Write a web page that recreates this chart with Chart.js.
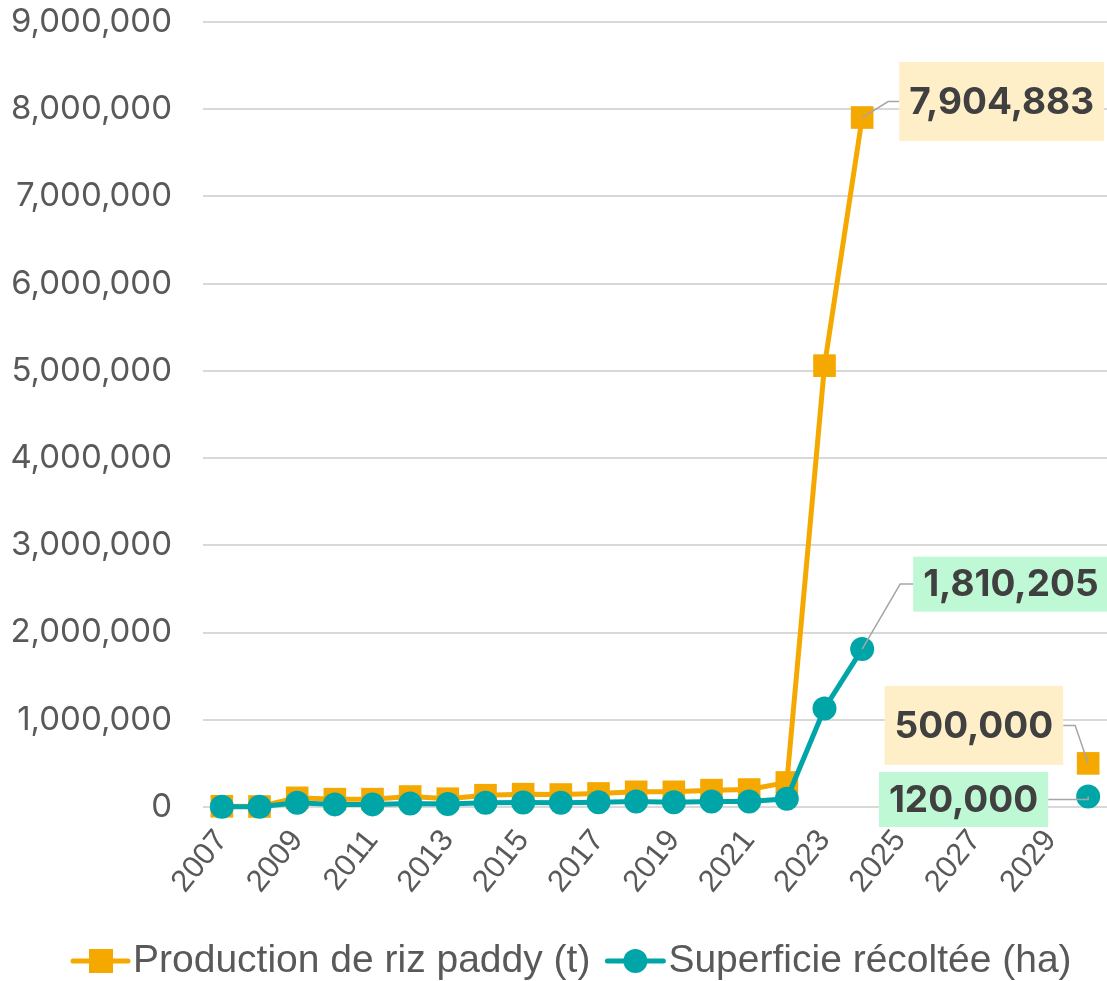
<!DOCTYPE html>
<html>
<head>
<meta charset="utf-8">
<script src="https://cdn.jsdelivr.net/npm/chart.js@4.4.1/dist/chart.umd.min.js"></script>
<style>
  html, body { margin: 0; padding: 0; background: #fff; overflow: hidden; }
  #wrap { width: 1107px; height: 981px; }
  canvas { display: block; }
</style>
</head>
<body>
<div id="wrap"><canvas id="c" width="1107" height="981"></canvas></div>
<script>
const years = [2007, 2008, 2009, 2010, 2011, 2012, 2013, 2014, 2015, 2016, 2017, 2018,
  2019, 2020, 2021, 2022, 2023, 2024, 2025, 2026, 2027, 2028, 2029, 2030];

const production = [8000, 6000, 105000, 90000, 90000, 120000, 95000, 135000, 147000, 143000,
  155000, 174000, 174000, 193000, 200000, 281000, 5060000, 7904883,
  null, null, null, null, null, 500000];

const superficie = [2000, 2000, 48000, 30000, 30000, 40000, 35000, 48000, 52000, 48000,
  55000, 62000, 55000, 62000, 62000, 94000, 1130000, 1810205,
  null, null, null, null, null, 120000];

const yTicks = [0, 1000000, 2000000, 3000000, 4000000, 5000000, 6000000, 7000000, 8000000, 9000000];

const seriesNames = ["Production de riz paddy (t)", "Superficie récoltée (ha)"];

const ORANGE = "#F5A800";
const TEAL = "#00A5A8";
const FONT = "'Liberation Sans', Arial, sans-serif";
const WIDE = "Inter, 'Liberation Sans', sans-serif";

const fmt = v => v.toLocaleString("en-US");

// étiquettes de valeurs avec cadre coloré et trait de rappel
const callouts = [
  { ds: 0, i: 17, bg: "#FFEFC9", side: "right", gap: 37, dy: -16, h: 79, knee: 26 },
  { ds: 1, i: 17, bg: "#BFF8D4", side: "right", gap: 51, dy: -65, h: 55, knee: 38 },
  { ds: 0, i: 23, bg: "#FFEFC9", side: "left", gap: 25, dy: -38, h: 79, knee: 13 },
  { ds: 1, i: 23, bg: "#BFF8D4", side: "left", gap: 40, dy: 3, h: 55, knee: 0 }
];

const calloutPlugin = {
  id: "callouts",
  afterDatasetsDraw(chart) {
    const ctx = chart.ctx;
    ctx.save();
    ctx.font = "bold 37px " + WIDE;
    ctx.textBaseline = "middle";
    callouts.forEach(c => {
      const pt = chart.getDatasetMeta(c.ds).data[c.i];
      const val = chart.data.datasets[c.ds].data[c.i];
      const txt = fmt(val);
      const tw = ctx.measureText(txt).width;
      const w = tw + 20;
      const cy = pt.y + c.dy;
      let left, edge, kneeX;
      if (c.side === "right") {
        left = pt.x + c.gap;
        edge = left;
        kneeX = pt.x + c.knee;
      } else {
        left = pt.x - c.gap - w;
        edge = pt.x - c.gap;
        kneeX = pt.x - c.knee;
      }
      // trait de rappel
      ctx.strokeStyle = "#A6A6A6";
      ctx.lineWidth = 1.5;
      ctx.beginPath();
      ctx.moveTo(edge, cy);
      ctx.lineTo(kneeX, cy);
      ctx.lineTo(pt.x, pt.y);
      ctx.stroke();
      // cadre
      ctx.fillStyle = c.bg;
      ctx.fillRect(left, cy - c.h / 2, w, c.h);
      ctx.fillStyle = "#404040";
      ctx.textAlign = "center";
      ctx.fillText(txt, left + w / 2, cy + 1);
    });
    ctx.restore();
  }
};

// légende dessinée à la main (trait + marqueur)
const legendPlugin = {
  id: "lineLegend",
  afterDraw(chart) {
    const ctx = chart.ctx;
    const y = 961;
    ctx.save();
    ctx.font = "39px " + FONT;
    ctx.textBaseline = "middle";
    ctx.textAlign = "left";
    ctx.lineWidth = 5;
    ctx.lineCap = "round";
    let x = 73;
    // série 1
    ctx.strokeStyle = ORANGE;
    ctx.beginPath(); ctx.moveTo(x, y); ctx.lineTo(x + 55, y); ctx.stroke();
    ctx.fillStyle = ORANGE;
    ctx.fillRect(x + 16, y - 12, 24, 24);
    ctx.fillStyle = "#595959";
    ctx.fillText(seriesNames[0], x + 60, y);
    x = x + 60 + ctx.measureText(seriesNames[0]).width + 17;
    // série 2
    ctx.strokeStyle = TEAL;
    ctx.beginPath(); ctx.moveTo(x, y); ctx.lineTo(x + 56, y); ctx.stroke();
    ctx.fillStyle = TEAL;
    ctx.beginPath(); ctx.arc(x + 28, y, 12, 0, Math.PI * 2); ctx.fill();
    ctx.fillStyle = "#595959";
    ctx.fillText(seriesNames[1], x + 61, y);
    ctx.restore();
  }
};

new Chart(document.getElementById("c"), {
  type: "line",
  data: {
    labels: years,
    datasets: [
      {
        label: seriesNames[0],
        data: production,
        order: 1,
        borderColor: ORANGE,
        backgroundColor: ORANGE,
        borderWidth: 5,
        pointStyle: "rect",
        pointRadius: 16,
        pointBorderWidth: 0,
        tension: 0
      },
      {
        label: seriesNames[1],
        data: superficie,
        order: 0,
        borderColor: TEAL,
        backgroundColor: TEAL,
        borderWidth: 5,
        pointStyle: "circle",
        pointRadius: 12,
        pointBorderWidth: 0,
        tension: 0
      }
    ]
  },
  options: {
    responsive: false,
    animation: false,
    clip: false,
    layout: { autoPadding: false, padding: { top: 22, right: -8, bottom: 80, left: 0 } },
    plugins: {
      legend: { display: false },
      tooltip: { enabled: false }
    },
    scales: {
      x: {
        offset: true,
        grid: { display: true, drawOnChartArea: false, tickLength: 14, tickColor: "rgba(0,0,0,0)" },
        border: { display: false },
        ticks: {
          autoSkip: false,
          minRotation: 51,
          maxRotation: 51,
          color: "#595959",
          font: { family: FONT, size: 31 },
          padding: 2,
          callback: function (v, i) { return i % 2 === 0 ? this.getLabelForValue(v) : null; }
        },
        afterFit: s => { s.height = 94; s.paddingLeft = 0; s.paddingRight = -8; }
      },
      y: {
        min: 0,
        max: 9000000,
        afterBuildTicks: s => { s.ticks = yTicks.map(v => ({ value: v })); },
        grid: { color: "#D9D9D9", lineWidth: 2, tickLength: 29, tickColor: "rgba(0,0,0,0)" },
        border: { display: false },
        ticks: {
          color: "#595959",
          font: { family: WIDE, size: 33 },
          padding: 2,
          callback: v => fmt(v)
        },
        afterFit: s => { s.width = 203; s.paddingTop = 0; s.paddingBottom = 0; s.paddingRight = -8; }
      }
    }
  },
  plugins: [calloutPlugin, legendPlugin]
});
</script>
</body>
</html>
